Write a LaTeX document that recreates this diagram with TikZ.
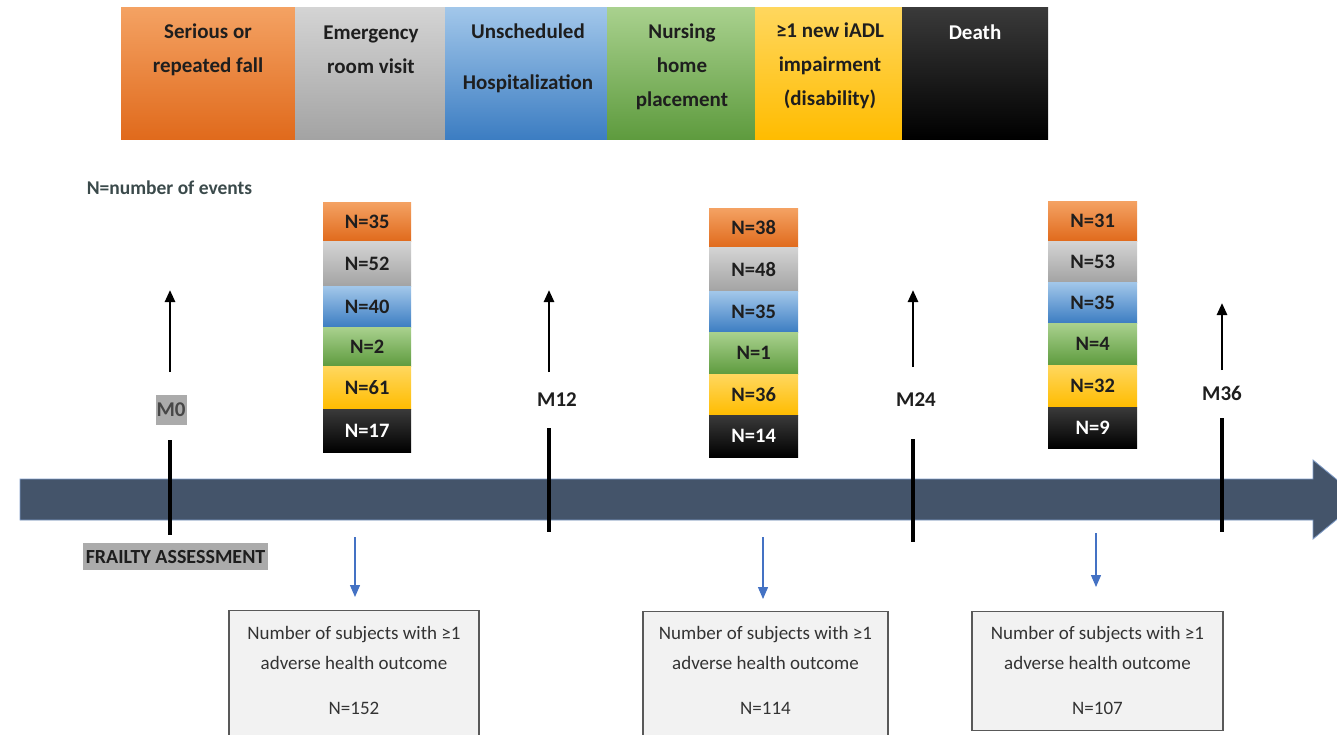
\documentclass[tikz,border=0pt]{standalone}
\usepackage{fontspec}
\setmainfont{Carlito}
\usetikzlibrary{arrows.meta}
\definecolor{orT}{HTML}{F4A263}\definecolor{orB}{HTML}{E06A1C}
\definecolor{grT}{HTML}{D4D4D4}\definecolor{grB}{HTML}{A3A3A3}
\definecolor{blT}{HTML}{A2C7EA}\definecolor{blB}{HTML}{3C7DC2}
\definecolor{gnT}{HTML}{A9D18E}\definecolor{gnB}{HTML}{5E9B3E}
\definecolor{yeT}{HTML}{FFD75E}\definecolor{yeB}{HTML}{FFBC00}
\definecolor{bkT}{HTML}{3A3A3A}\definecolor{bkB}{HTML}{000000}
\definecolor{bandc}{HTML}{44546A}
\definecolor{bandedge}{HTML}{7F9CC8}
\definecolor{darktxt}{HTML}{1E1E1E}
\definecolor{legendtxt}{HTML}{3B4A4B}
\definecolor{labgray}{HTML}{ABABAB}
\definecolor{boxfill}{HTML}{F2F2F2}
\definecolor{boxedge}{HTML}{595959}
\definecolor{boxtxt}{HTML}{333333}
\definecolor{arrblue}{HTML}{4472C4}
\begin{document}
\begin{tikzpicture}[x=1pt,y=-1pt,
  orsh/.style={top color=orT,bottom color=orB},
  grsh/.style={top color=grT,bottom color=grB},
  blsh/.style={top color=blT,bottom color=blB},
  gnsh/.style={top color=gnT,bottom color=gnB},
  yesh/.style={top color=yeT,bottom color=yeB},
  bksh/.style={top color=bkT,bottom color=bkB},
  hseg/.style={draw=none,inner sep=0pt,minimum height=132pt,anchor=north west},
  htext/.style={align=center,inner sep=0pt,text=darktxt,font=\bfseries\fontsize{21}{34}\selectfont},
  sseg/.style={draw=none,inner sep=0pt,anchor=north west,text=darktxt,font=\bfseries\fontsize{20.5}{24}\selectfont},
  mlab/.style={inner sep=1pt,minimum height=30pt,text=darktxt,font=\bfseries\fontsize{21}{24}\selectfont},
  uparr/.style={line width=2.6pt,-{Triangle[width=10pt,length=12pt]}},
  tick/.style={line width=4.5pt},
  bluearr/.style={draw=arrblue,line width=1.3pt,-{Triangle[width=10pt,length=12pt]}},
  obox/.style={draw=boxedge,fill=boxfill,line width=1.4pt,inner sep=0pt,anchor=north},
  otext/.style={align=center,inner sep=0pt,text=boxtxt,font=\fontsize{19}{30}\selectfont}
]
\useasboundingbox (0,0) rectangle (1337,734);
\clip (0,0) rectangle (1337,734);

% header
\node[hseg,orsh,minimum width=174pt] (hfall) at (121,7) {};
\node[hseg,grsh,minimum width=150pt] (her) at (295,7) {};
\node[hseg,blsh,minimum width=162pt] (hhosp) at (445,7) {};
\node[hseg,gnsh,minimum width=148pt] (hnurs) at (607,7) {};
\node[hseg,yesh,minimum width=147pt] (hiadl) at (755,7) {};
\node[hseg,bksh,minimum width=146pt] (hdeath) at (902,7) {};
\node[htext] (tfall) at (208,50) {Serious or\\repeated fall};
\node[htext] (ter) at (371,50) {Emergency\\room visit};
\node[htext] (thosp) at (528,58) {Unscheduled\\[17pt]Hospitalization};
\node[htext] (tnurs) at (682,67) {Nursing\\home\\placement};
\node[htext] (tiadl) at (830,66) {≥1 new iADL\\impairment\\(disability)};
\node[htext,text=white] (tdeath) at (975,32) {Death};

\node[inner sep=0pt,text=legendtxt,font=\bfseries\fontsize{19.5}{22}\selectfont] (legend) at (169.5,188) {N=number of events};

% timeline band
\fill[bandc,draw=bandedge,line width=0.8pt] (20,479) -- (1313,479) -- (1313,460) -- (1361,499.5) -- (1313,539) -- (1313,520) -- (20,520) -- cycle;

% milestones
\node[mlab,fill=labgray,text={black!72}] (m0) at (171,410) {M0};
\node[mlab] (m12) at (557,400) {M12};
\node[mlab] (m24) at (916,400) {M24};
\node[mlab] (m36) at (1222,393) {M36};
\coordinate (m0lo) at (170,372); \coordinate (m0hi) at (170,290);
\coordinate (m0a) at (170,440); \coordinate (m0b) at (170,535);
\coordinate (m12lo) at (549,372); \coordinate (m12hi) at (549,290);
\coordinate (m12a) at (549,428); \coordinate (m12b) at (549,532);
\coordinate (m24lo) at (913,367); \coordinate (m24hi) at (913,290);
\coordinate (m24a) at (913,439); \coordinate (m24b) at (913,542);
\coordinate (m36lo) at (1222,370); \coordinate (m36hi) at (1222,303);
\coordinate (m36a) at (1222,418); \coordinate (m36b) at (1222,532);
\draw[uparr] (m0lo) -- (m0hi);
\draw[uparr] (m12lo) -- (m12hi);
\draw[uparr] (m24lo) -- (m24hi);
\draw[uparr] (m36lo) -- (m36hi);
\draw[tick] (m0a) -- (m0b);
\draw[tick] (m12a) -- (m12b);
\draw[tick] (m24a) -- (m24b);
\draw[tick] (m36a) -- (m36b);

\node[fill=labgray,inner sep=0pt,minimum width=185pt,minimum height=27pt,text=darktxt,font=\bfseries\fontsize{20}{22}\selectfont] (frailty) at (175.5,556.5) {FRAILTY ASSESSMENT};

% stack 1
\node[sseg,orsh,minimum width=88pt,minimum height=39pt] (s1a) at (323,202) {N=35};
\node[sseg,grsh,minimum width=88pt,minimum height=45pt] (s1b) at (323,241) {N=52};
\node[sseg,blsh,minimum width=88pt,minimum height=41pt] (s1c) at (323,286) {N=40};
\node[sseg,gnsh,minimum width=88pt,minimum height=39pt] (s1d) at (323,327) {N=2};
\node[sseg,yesh,minimum width=88pt,minimum height=43pt] (s1e) at (323,366) {N=61};
\node[sseg,bksh,minimum width=88pt,minimum height=43pt,text=white] (s1f) at (323,409) {N=17};
% stack 2
\node[sseg,orsh,minimum width=89pt,minimum height=39pt] (s2a) at (709,208) {N=38};
\node[sseg,grsh,minimum width=89pt,minimum height=44pt] (s2b) at (709,247) {N=48};
\node[sseg,blsh,minimum width=89pt,minimum height=41pt] (s2c) at (709,291) {N=35};
\node[sseg,gnsh,minimum width=89pt,minimum height=42pt] (s2d) at (709,332) {N=1};
\node[sseg,yesh,minimum width=89pt,minimum height=41pt] (s2e) at (709,374) {N=36};
\node[sseg,bksh,minimum width=89pt,minimum height=42pt,text=white] (s2f) at (709,415) {N=14};
% stack 3
\node[sseg,orsh,minimum width=89pt,minimum height=40pt] (s3a) at (1048,201) {N=31};
\node[sseg,grsh,minimum width=89pt,minimum height=41pt] (s3b) at (1048,241) {N=53};
\node[sseg,blsh,minimum width=89pt,minimum height=41pt] (s3c) at (1048,282) {N=35};
\node[sseg,gnsh,minimum width=89pt,minimum height=42pt] (s3d) at (1048,323) {N=4};
\node[sseg,yesh,minimum width=89pt,minimum height=42pt] (s3e) at (1048,365) {N=32};
\node[sseg,bksh,minimum width=89pt,minimum height=41pt,text=white] (s3f) at (1048,407) {N=9};

% outcome boxes
\node[obox,minimum width=250pt,minimum height=140pt] (b1) at (354,610) {};
\node[obox,minimum width=245pt,minimum height=140pt] (b2) at (765.5,611) {};
\node[obox,minimum width=251pt,minimum height=119pt] (b3) at (1097.5,611) {};
\node[otext] (t1) at (354,670.5) {Number of subjects with ≥1\\adverse health outcome\\[15pt]N=152};
\node[otext] (t2) at (765.5,670.5) {Number of subjects with ≥1\\adverse health outcome\\[15pt]N=114};
\node[otext] (t3) at (1097.5,670.5) {Number of subjects with ≥1\\adverse health outcome\\[15pt]N=107};

\coordinate (a1) at (355,537);
\coordinate (a2) at (763,537);
\coordinate (a3) at (1096,533);
\draw[bluearr,shorten >=13pt] (a1) -- (a1 |- b1.north);
\draw[bluearr,shorten >=12pt] (a2) -- (a2 |- b2.north);
\draw[bluearr,shorten >=24pt] (a3) -- (a3 |- b3.north);
\end{tikzpicture}
\end{document}
